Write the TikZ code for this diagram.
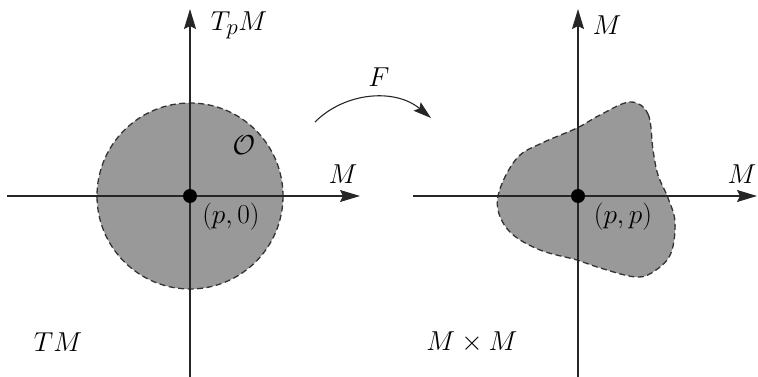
\documentclass[tikz,border=0pt]{standalone}
\usetikzlibrary{arrows.meta}
\newcommand{\lblmath}[1]{\scalebox{1.1}{\Huge$#1$}}
\begin{document}
\begin{tikzpicture}[x=1pt,y=-1pt,
  axis/.style={line width=1.2pt,black!85,-{Stealth[length=20pt,width=12pt,inset=3pt]}},
  region/.style={fill=black!40,draw=black!80,line width=1.3pt,dash pattern=on 6pt off 3.5pt},
  pt/.style={circle,fill=black,inner sep=0pt,minimum size=14pt},
  lbl/.style={inner sep=1pt}]
\useasboundingbox (0,0) rectangle (758,377);
% left
\path[region] (190,196) circle[radius=93];
\coordinate (l0) at (7,196);
\coordinate (l1) at (360,196);
\coordinate (l2) at (190,377);
\coordinate (l3) at (190,9);
\draw[axis] (l0) -- (l1);
\draw[axis] (l2) -- (l3);
\node[pt] (p0) at (190,196) {};
\node[lbl] (TpM) at (239,25) {\lblmath{T_pM}};
\node[lbl] (Ml) at (343,174) {\lblmath{M}};
\node[lbl] (O) at (244,145) {\lblmath{\mathcal{O}}};
\node[lbl] (pz) at (231,217) {\lblmath{(p,0)}};
\node[lbl] (TM) at (58,342) {\lblmath{TM}};
% right
\path[region] plot[smooth cycle,tension=0.6] coordinates {(630,102) (648,114) (653,150) (658,175) (668,198) (675,222) (671,253) (656,270) (636,277) (597,267) (577,260) (540,250) (511,233) (498,210) (501,186) (518,157) (542,143) (577,128) (600,115)};
\coordinate (r0) at (413,196);
\coordinate (r1) at (757,196);
\coordinate (r2) at (578,377);
\coordinate (r3) at (578,9);
\draw[axis] (r0) -- (r1);
\draw[axis] (r2) -- (r3);
\node[pt] (pp) at (578,196) {};
\node[lbl] (Mt) at (607,25) {\lblmath{M}};
\node[lbl] (Mr) at (742,174) {\lblmath{M}};
\node[lbl] (ppl) at (623,217) {\lblmath{(p,p)}};
\node[lbl] (MM) at (472,342) {\lblmath{M\times M}};
% F arrow
\coordinate (fa) at (315,122);
\coordinate (fb) at (431,118);
\draw[line width=1.1pt,black!85,-{Stealth[length=18pt,width=11pt,inset=3pt]}] (fa) .. controls (345,92) and (395,88) .. (fb);
\node[lbl] (F) at (379,77) {\lblmath{F}};
\end{tikzpicture}
\end{document}
